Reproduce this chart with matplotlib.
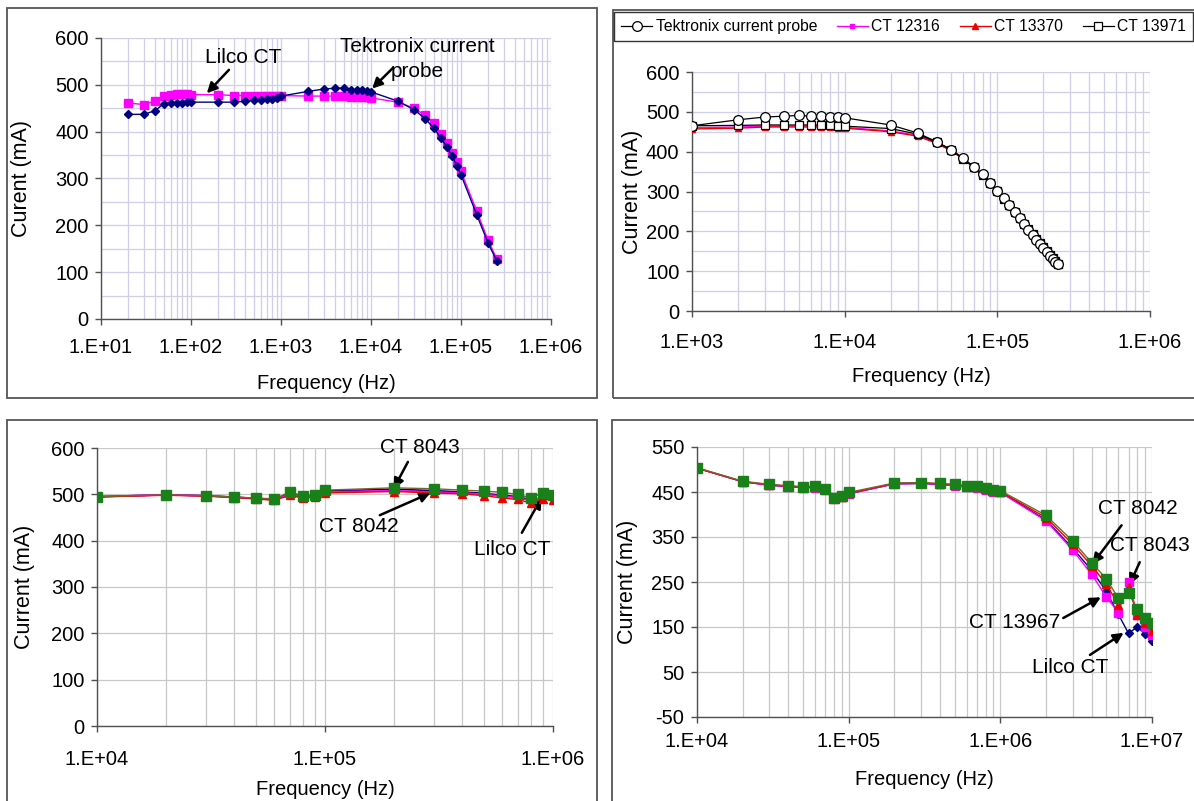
import numpy as np
import matplotlib
matplotlib.use("Agg")
import matplotlib.pyplot as plt
from matplotlib.patches import Rectangle
from matplotlib.ticker import LogLocator, FuncFormatter, NullFormatter, MultipleLocator

plt.rcParams['font.family'] = ['Liberation Sans', 'DejaVu Sans']
plt.rcParams['axes.unicode_minus'] = False

# ---------------- data ----------------
# Panel A: Tektronix probe vs Lilco CT, 20 Hz - 250 kHz
freq_a = [20, 30, 40, 50, 60, 70, 80, 90, 100,
          200, 300, 400, 500, 600, 700, 800, 900, 1000,
          2000, 3000, 4000, 5000, 6000, 7000, 8000, 9000, 10000,
          20000, 30000, 40000, 50000, 60000, 70000, 80000, 90000, 100000,
          150000, 200000, 250000]
tek_a = [437, 437, 445, 460, 461, 461, 461, 463, 463,
         463, 463, 465, 467, 468, 469, 470, 472, 476,
         486, 491, 493, 493, 490, 489, 488, 487, 485,
         465, 447, 428, 407, 386, 367, 347, 327, 308,
         222, 162, 124]
lilco_a = [461, 458, 466, 477, 479, 480, 481, 480, 479,
           479, 477, 477, 477, 477, 477, 477, 477, 477,
           476, 476, 476, 476, 474, 474, 474, 473, 472,
           463, 450, 435, 418, 396, 376, 355, 335, 315,
           230, 168, 128]

# Panel B: four probes, 1 kHz - 250 kHz
freq_b = [1000, 2000, 3000, 4000, 5000, 6000, 7000, 8000, 9000, 10000,
          20000, 30000, 40000, 50000, 60000, 70000, 80000, 90000, 100000,
          110000, 120000, 130000, 140000, 150000, 160000, 170000, 180000,
          190000, 200000, 210000, 220000, 230000, 240000, 250000]
tek_b = [465, 480, 487, 489, 491, 489, 489, 488, 486, 485,
         467, 447, 425, 405, 383, 362, 343, 322, 302,
         283, 266, 249, 233, 218, 204, 191, 179, 168, 158, 148, 139, 131, 124, 118]
ct12316_b = [460, 462, 464, 464, 464, 464, 464, 463, 462, 461,
             452, 441, 422, 403, 382, 362, 343, 322, 302,
             283, 266, 249, 234, 220, 206, 194, 182, 171, 161, 151, 142, 133, 126, 120]
ct13370_b = [457, 459, 462, 462, 462, 462, 462, 461, 460, 459,
             450, 439, 421, 402, 381, 360, 341, 320, 300,
             281, 264, 247, 232, 218, 204, 192, 180, 169, 159, 149, 140, 131, 124, 118]
ct13971_b = [465, 466, 467, 467, 467, 467, 467, 466, 465, 464,
             458, 444, 424, 404, 382, 361, 341, 321, 301,
             282, 265, 248, 233, 219, 206, 193, 181, 170, 160, 150, 141, 132, 125, 119]

# Panel C: 10 kHz - 1 MHz
freq_c = [1e4, 2e4, 3e4, 4e4, 5e4, 6e4, 7e4, 8e4, 9e4,
          1e5, 2e5, 3e5, 4e5, 5e5, 6e5, 7e5, 8e5, 9e5, 1e6]
ct8043_c = [495, 499, 497, 494, 492, 490, 505, 497, 499,
            509, 514, 512, 509, 507, 504, 500, 492, 503, 499]
ct8042_c = [494, 498, 496, 493, 490, 487, 498, 492, 494,
            503, 506, 503, 501, 497, 492, 489, 481, 490, 487]
ct13967_c = [495, 499, 497, 494, 491, 489, 500, 494, 496,
             505, 508, 505, 503, 500, 496, 493, 486, 494, 492]
lilco_c = [495, 499, 497, 494, 491, 489, 502, 495, 497,
           507, 511, 508, 505, 502, 498, 495, 488, 492, 494]

# Panel D: 10 kHz - 10 MHz
freq_d = [1e4, 2e4, 3e4, 4e4, 5e4, 6e4, 7e4, 8e4, 9e4,
          1e5, 2e5, 3e5, 4e5, 5e5, 6e5, 7e5, 8e5, 9e5,
          1e6, 2e6, 3e6, 4e6, 5e6, 6e6, 7e6, 8e6, 9e6, 1e7]
ct8043_d = [504, 474, 467, 464, 462, 463, 457, 437, 441,
            449, 470, 471, 469, 467, 464, 463, 458, 455,
            453, 398, 341, 293, 257, 214, 226, 190, 171, 158]
ct8042_d = [503, 473, 466, 463, 461, 461, 456, 436, 440,
            447, 469, 470, 468, 466, 463, 461, 456, 453,
            451, 393, 334, 286, 245, 200, 238, 177, 158, 142]
ct13967_d = [503, 473, 465, 462, 460, 460, 455, 435, 439,
             446, 468, 469, 467, 464, 461, 459, 455, 451,
             449, 386, 321, 267, 217, 182, 251, 177, 151, 132]
lilco_d = [503, 473, 465, 462, 460, 460, 455, 435, 439,
           446, 468, 469, 467, 464, 461, 459, 455, 452,
           450, 388, 325, 276, 229, 178, 136, 150, 134, 119]

# ---------------- styling ----------------
W, H = 1194, 801
NAVY = '#000080'
MAGENTA = '#ff00ff'
RED = '#ee0000'
GREEN = '#1a801a'
OLIVE = '#7a6428'
LAVENDER = '#cfcfe8'
GREY = '#c8c8c8'
SPINE = '#505050'

fig = plt.figure(figsize=(W / 100, H / 100), dpi=100)
fig.patch.set_facecolor('white')


def px_axes(left, top, right, bottom):
    return fig.add_axes([left / W, 1 - bottom / H, (right - left) / W, (bottom - top) / H])


def frame(left, top, right, bottom):
    fig.add_artist(Rectangle((left / W, 1 - bottom / H), (right - left) / W, (bottom - top) / H,
                             transform=fig.transFigure, fill=False, edgecolor='#555555', lw=1.3))


def decade_label(v, _):
    return f"1.E+{int(round(np.log10(v))):02d}"


def style(ax, xlim, ylim, ystep, grid_color, yminor=None, xpad=10):
    ax.set_xscale('log')
    ax.set_xlim(*xlim)
    ax.set_ylim(*ylim)
    ax.xaxis.set_major_locator(LogLocator(base=10, numticks=20))
    ax.xaxis.set_minor_locator(LogLocator(base=10, subs=np.arange(2, 10), numticks=20))
    ax.xaxis.set_major_formatter(FuncFormatter(decade_label))
    ax.xaxis.set_minor_formatter(NullFormatter())
    ax.yaxis.set_major_locator(MultipleLocator(ystep))
    ax.grid(True, which='both', axis='x', color=grid_color, lw=0.9)
    ax.grid(True, which='major', axis='y', color=grid_color, lw=0.9)
    if yminor:
        ax.yaxis.set_minor_locator(MultipleLocator(yminor))
        ax.grid(True, which='minor', axis='y', color=grid_color, lw=0.9)
    ax.set_axisbelow(True)
    for s in ('top', 'right'):
        ax.spines[s].set_visible(False)
    for s in ('left', 'bottom'):
        ax.spines[s].set_color(SPINE)
        ax.spines[s].set_linewidth(1.0)
    ax.tick_params(which='major', length=4, width=1, color=SPINE, labelsize=14.5)
    ax.tick_params(axis='x', which='major', pad=xpad)
    ax.tick_params(axis='y', which='major', pad=5)
    ax.tick_params(which='minor', length=0)


def labels(ax, ylabel, xfrac, yfrac):
    ax.set_xlabel('Frequency (Hz)', fontsize=14.5)
    ax.set_ylabel(ylabel, fontsize=15.5)
    ax.xaxis.set_label_coords(0.5, xfrac)
    ax.xaxis.label.set_va('center')
    ax.yaxis.set_label_coords(yfrac, 0.5)
    ax.yaxis.label.set_va('center')


def arrow(ax, head, tail):
    ax.annotate('', xy=head, xytext=tail,
                arrowprops=dict(arrowstyle='-|>,head_length=0.6,head_width=0.3',
                                color='black', lw=1.8, shrinkA=0, shrinkB=0))


ANN = dict(fontsize=15, ha='center', va='center', color='black')

# ---------------- panel A ----------------
frame(7, 8, 597, 398)
axa = px_axes(101, 38, 551, 319)
style(axa, (10, 1e6), (0, 600), 100, LAVENDER, yminor=50)
axa.plot(freq_a, lilco_a, color=MAGENTA, lw=1.0, marker='s', ms=5.5, mec=MAGENTA, zorder=3)
axa.plot(freq_a, tek_a, color=NAVY, lw=1.0, marker='D', ms=3.6, mec=NAVY, zorder=4)
labels(axa, 'Curent (mA)', -0.228, -0.176)
axa.text(378, 559, 'Lilco CT', **ANN)
arrow(axa, (150, 482), (264, 532))
axa.text(32400, 555, 'Tektronix current\nprobe', linespacing=1.35, **ANN)
arrow(axa, (10300, 492), (17500, 536))

# ---------------- panel B ----------------
frame(613, 10, 1200, 398)
axb = px_axes(692, 72, 1150, 311)
style(axb, (1e3, 1e6), (0, 600), 100, LAVENDER, yminor=50, xpad=12)
l_mag, = axb.plot(freq_b, ct12316_b, color=MAGENTA, lw=1.0, marker='s', ms=3.5, mec=MAGENTA, zorder=3)
l_red, = axb.plot(freq_b, ct13370_b, color=RED, lw=1.0, marker='^', ms=5, mec=RED, zorder=3)
l_sq, = axb.plot(freq_b, ct13971_b, color='black', lw=0.9, marker='s', ms=5.5, mfc='white',
                 mec='black', mew=0.9, zorder=4)
l_tek, = axb.plot(freq_b, tek_b, color='black', lw=0.9, marker='o', ms=7, mfc='white',
                  mec='black', mew=0.9, zorder=5)
labels(axb, 'Current (mA)', -0.272, -0.131)
leg = fig.legend([l_tek, l_mag, l_red, l_sq],
                 ['Tektronix current probe', 'CT 12316', 'CT 13370', 'CT 13971'],
                 loc='upper left', bbox_to_anchor=(614 / W, 1 - 12 / H),
                 ncol=4, fontsize=11.3, frameon=True, fancybox=False,
                 edgecolor='black', handlelength=2.0, handletextpad=0.2,
                 columnspacing=1.25, borderpad=0.45, borderaxespad=0)
leg.get_frame().set_linewidth(1.0)

# ---------------- panel C ----------------
frame(7, 420, 597, 810)
axc = px_axes(97, 448, 553, 726)
style(axc, (1e4, 1e6), (0, 600), 100, GREY, xpad=13)
axc.plot(freq_c, lilco_c, color=NAVY, lw=1.2, zorder=3)
axc.plot(freq_c, ct13967_c, color=MAGENTA, lw=1.2, zorder=3)
axc.plot(freq_c, ct8042_c, color=RED, lw=1.0, marker='^', ms=6, mec=RED, zorder=4)
axc.plot(freq_c, ct8043_c, color=OLIVE, lw=1.0, marker='s', ms=7, mfc=GREEN, mec=GREEN, zorder=5)
labels(axc, 'Current (mA)', -0.230, -0.158)
axc.text(2.61e5, 602, 'CT 8043', **ANN)
arrow(axc, (2.0e5, 512), (2.31e5, 570))
axc.text(1.4e5, 430, 'CT 8042', **ANN)
arrow(axc, (2.9e5, 503), (1.74e5, 455))
axc.text(6.6e5, 382, 'Lilco CT', **ANN)
arrow(axc, (8.9e5, 492), (7.3e5, 417))

# ---------------- panel D ----------------
frame(612, 420, 1200, 810)
axd = px_axes(697, 447, 1152, 717)
style(axd, (1e4, 1e7), (-50, 550), 100, GREY, xpad=7)
axd.set_yticks(np.arange(-50, 551, 100))
axd.plot(freq_d, lilco_d, color=NAVY, lw=1.0, marker='D', ms=4, mec=NAVY, zorder=3)
axd.plot(freq_d, ct13967_d, color=MAGENTA, lw=1.0, marker='s', ms=6, mec=MAGENTA, zorder=4)
axd.plot(freq_d, ct8042_d, color=RED, lw=1.0, marker='^', ms=5.5, mec=RED, zorder=5)
axd.plot(freq_d, ct8043_d, color=OLIVE, lw=1.0, marker='s', ms=7, mfc=GREEN, mec=GREEN, zorder=6)
labels(axd, 'Current (mA)', -0.232, -0.152)
axd.text(8.07e6, 414, 'CT 8042', **ANN)
arrow(axd, (4.05e6, 290), (6.3e6, 376))
axd.text(9.7e6, 332, 'CT 8043', **ANN)
arrow(axd, (7.1e6, 244), (8.3e6, 294))
axd.text(1.25e6, 161, 'CT 13967', **ANN)
arrow(axd, (4.6e6, 216), (2.6e6, 170))
axd.text(2.9e6, 59, 'Lilco CT', **ANN)
arrow(axd, (6.5e6, 137), (3.9e6, 88))

fig.savefig('out.png', dpi=100, facecolor='white')
